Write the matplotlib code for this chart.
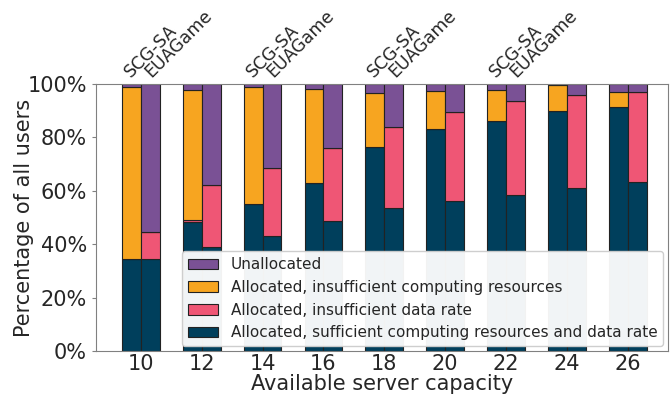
import numpy as np
import matplotlib
matplotlib.use("Agg")
import matplotlib.pyplot as plt

# capacities on the x axis
capacity = [10, 12, 14, 16, 18, 20, 22, 24, 26]

# SCG-SA, percentage of users per category
scg_ok = [34.6, 48.3, 55.0, 63.0, 76.3, 83.1, 86.0, 89.9, 91.4]
scg_rate = [0.0, 0.6, 0.0, 0.0, 0.0, 0.0, 0.0, 0.0, 0.0]
scg_comp = [64.2, 48.7, 43.8, 35.1, 20.3, 14.3, 11.8, 9.6, 5.6]

# EUAGame, percentage of users per category
eua_ok = [34.4, 39.0, 43.1, 48.6, 53.5, 56.0, 58.4, 61.2, 63.4]
eua_rate = [10.3, 23.3, 25.4, 27.4, 30.5, 33.6, 35.3, 34.7, 33.7]
eua_comp = [0.0, 0.0, 0.0, 0.0, 0.0, 0.0, 0.0, 0.0, 0.0]

labels = ["Allocated, sufficient computing resources and data rate",
          "Allocated, insufficient data rate",
          "Allocated, insufficient computing resources",
          "Unallocated"]
colors = ["#003f5c", "#ef5675", "#f7a520", "#7a5195"]

plt.rcParams['font.family'] = 'DejaVu Sans'
txt = '#262626'

fig = plt.figure(figsize=(6.7, 3.94), dpi=100)
ax = fig.add_axes([0.143, 0.109, 0.854, 0.678])

x = np.arange(len(capacity))
w = 0.31

def stack(xpos, parts):
    bottom = np.zeros(len(capacity))
    handles = []
    for vals, col, lab in zip(parts, colors, labels):
        vals = np.array(vals)
        h = ax.bar(xpos, vals, w, bottom=bottom, color=col, edgecolor='#222222',
                   linewidth=0.8, align='edge', label=lab)
        handles.append(h)
        bottom = bottom + vals
    # unallocated fills the rest up to 100%
    h = ax.bar(xpos, 100 - bottom, w, bottom=bottom, color=colors[3],
               edgecolor='#222222', linewidth=0.8, align='edge', label=labels[3])
    handles.append(h)
    return handles

hs = stack(x - w, [scg_ok, scg_rate, scg_comp])
stack(x, [eua_ok, eua_rate, eua_comp])

ax.set_xlim(-0.74, 8.66)
ax.set_ylim(0, 100)
ax.set_xticks(x)
ax.set_xticklabels([str(c) for c in capacity])
ax.set_yticks([0, 20, 40, 60, 80, 100])
ax.set_yticklabels(['%d%%' % v for v in [0, 20, 40, 60, 80, 100]])
ax.tick_params(axis='both', labelsize=15, colors='#808080', labelcolor=txt, length=3)
ax.tick_params(axis='x', length=0, pad=2)
for s in ax.spines.values():
    s.set_color('#808080')

ax.set_xlabel("Available server capacity", fontsize=15, color=txt, labelpad=0)
ax.set_ylabel("Percentage of all users", fontsize=15, color=txt, labelpad=-5)

# method names above every other group
for i in range(0, len(capacity) - 1, 2):
    ax.text(x[i] - 0.12, 101, "SCG-SA", rotation=45, rotation_mode='anchor',
            ha='left', va='bottom', fontsize=12.5, color=txt)
    ax.text(x[i] + 0.22, 101, "EUAGame", rotation=45, rotation_mode='anchor',
            ha='left', va='bottom', fontsize=12.5, color=txt)

leg = ax.legend(hs[::-1], labels[::-1], loc='lower right', fontsize=11,
                framealpha=0.95, edgecolor='#cccccc', borderaxespad=0.3,
                handlelength=2.0, labelspacing=0.5)
for t in leg.get_texts():
    t.set_color(txt)

fig.savefig("out.png", dpi=100)
